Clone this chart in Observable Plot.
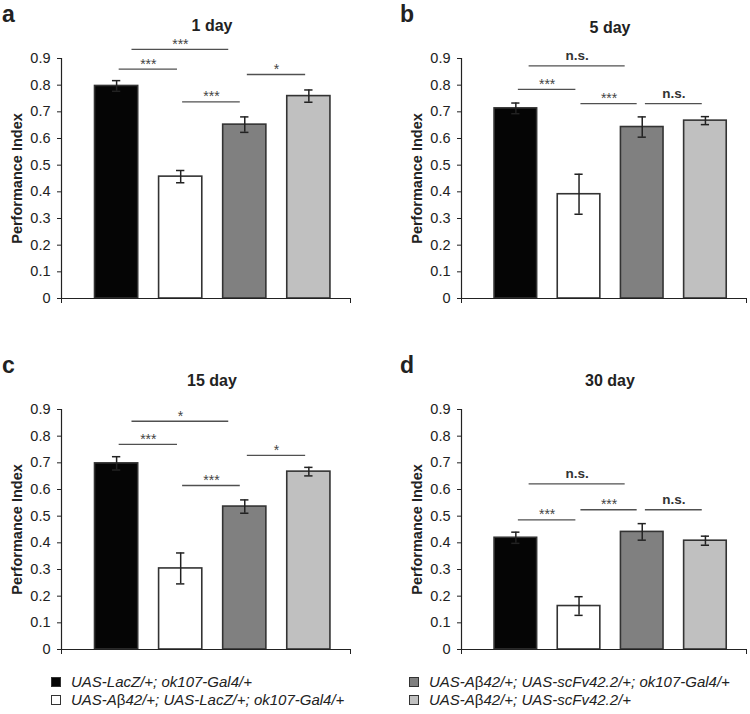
<!DOCTYPE html>
<html>
<head>
<meta charset="utf-8">
<script src="https://cdn.jsdelivr.net/npm/d3@7"></script>
<script src="https://cdn.jsdelivr.net/npm/@observablehq/plot@0.6"></script>
<style>
  html, body { margin: 0; padding: 0; background: #fff; }
  #fig { position: relative; width: 750px; height: 714px; background: #fff; font-family: "Liberation Sans", Arial, sans-serif; color: #222; overflow: hidden; }
  .panel { position: absolute; }
  .letter { position: absolute; font-size: 23px; font-weight: bold; line-height: 22px; color: #222; }
  .leg { position: absolute; font-size: 15px; font-style: italic; line-height: 18px; color: #222; white-space: nowrap; }
  .leg .sw { position: absolute; width: 8px; height: 8px; border: 1px solid #333; }
  .leg .up { font-style: normal; }
</style>
</head>
<body>
<div id="fig"></div>
<script>
// ---------- data ----------
const genotypes = [
  "UAS-LacZ/+; ok107-Gal4/+",
  "UAS-A\u03b242/+; UAS-LacZ/+; ok107-Gal4/+",
  "UAS-A\u03b242/+; UAS-scFv42.2/+; ok107-Gal4/+",
  "UAS-A\u03b242/+; UAS-scFv42.2/+"
];
const barColors = ["#050505", "#ffffff", "#808080", "#c0c0c0"];
const panelLetters = ["a", "b", "c", "d"];
const panelTitles = ["1 day", "5 day", "15 day", "30 day"];
const yTicks = [0, 0.1, 0.2, 0.3, 0.4, 0.5, 0.6, 0.7, 0.8, 0.9];
const yTickLabels = ["0", "0.1", "0.2", "0.3", "0.4", "0.5", "0.6", "0.7", "0.8", "0.9"];
const yLabel = "Performance Index";

// mean performance index and error (SEM) per genotype
const means1 = [0.797, 0.457, 0.652, 0.759];
const errs1 = [0.020, 0.023, 0.029, 0.023];
const means5 = [0.713, 0.391, 0.643, 0.667];
const errs5 = [0.020, 0.075, 0.038, 0.015];
const means15 = [0.698, 0.304, 0.536, 0.667];
const errs15 = [0.025, 0.058, 0.025, 0.016];
const means30 = [0.419, 0.163, 0.441, 0.408];
const errs30 = [0.021, 0.035, 0.031, 0.017];

// significance brackets: label, height, from/to (genotype index units)
const sig1Labels = ["***", "***", "***", "*"];
const sig1Y = [0.934, 0.860, 0.737, 0.840];
const sig1From = [0.24, 0.04, 1.03, 2.04];
const sig1To = [1.75, 0.95, 1.93, 2.95];

const sig5Labels = ["n.s.", "***", "***", "n.s."];
const sig5Y = [0.872, 0.784, 0.731, 0.731];
const sig5From = [0.21, 0.04, 1.03, 2.05];
const sig5To = [1.73, 0.95, 1.92, 2.95];

const sig15Labels = ["*", "***", "***", "*"];
const sig15Y = [0.856, 0.769, 0.615, 0.728];
const sig15From = [0.24, 0.04, 1.03, 2.04];
const sig15To = [1.75, 0.95, 1.93, 2.95];

const sig30Labels = ["n.s.", "***", "***", "n.s."];
const sig30Y = [0.621, 0.486, 0.524, 0.524];
const sig30From = [0.21, 0.04, 1.03, 2.05];
const sig30To = [1.73, 0.95, 1.92, 2.95];

// ---------- layout ----------
const FONT = '"Liberation Sans", Arial, sans-serif';
const xDomain = [-0.86, 3.65];
const layouts = [
  {left: 0,   top: 0,   marginLeft: 61, marginRight: 25, titleDy: -33, titleDx: 6},
  {left: 375, top: 0,   marginLeft: 86, marginRight: 4,  titleDy: -31, titleDx: 6},
  {left: 0,   top: 351, marginLeft: 61, marginRight: 25, titleDy: -29, titleDx: 6},
  {left: 375, top: 351, marginLeft: 86, marginRight: 4,  titleDy: -29, titleDx: 6}
];
const letterPos = [[2, 3], [400, 3], [2, 354], [400, 354]];

const allMeans = [means1, means5, means15, means30];
const allErrs = [errs1, errs5, errs15, errs30];
const allSig = [
  [sig1Labels, sig1Y, sig1From, sig1To],
  [sig5Labels, sig5Y, sig5From, sig5To],
  [sig15Labels, sig15Y, sig15From, sig15To],
  [sig30Labels, sig30Y, sig30From, sig30To]
];

const fig = document.getElementById("fig");

function makePanel(p) {
  const L = layouts[p];
  const bars = allMeans[p].map((m, i) => ({i, m, e: allErrs[p][i], fill: barColors[i]}));
  const [lab, sy, sf, st] = allSig[p];
  const sig = lab.map((t, k) => ({t, y: sy[k], x1: sf[k], x2: st[k], xm: (sf[k] + st[k]) / 2}));
  const hw = 0.337, cap = 0.065;
  const plot = Plot.plot({
    width: 375,
    height: 312,
    marginLeft: L.marginLeft,
    marginRight: L.marginRight,
    marginTop: 58,
    marginBottom: 14,
    x: {domain: xDomain, axis: null},
    y: {domain: [0, 0.9], axis: null},
    color: {type: "identity"},
    style: {fontFamily: FONT, background: "transparent", overflow: "visible", color: "#222"},
    marks: [
      Plot.rectY(bars, {x1: d => d.i - hw, x2: d => d.i + hw, y1: 0, y2: "m", fill: "fill", stroke: "#333", strokeWidth: 1.6}),
      Plot.ruleX(bars, {x: "i", y1: d => d.m - d.e, y2: d => d.m + d.e, stroke: "#222", strokeWidth: 1.5}),
      Plot.ruleY(bars, {y: d => d.m + d.e, x1: d => d.i - cap, x2: d => d.i + cap, stroke: "#222", strokeWidth: 1.5}),
      Plot.ruleY(bars, {y: d => d.m - d.e, x1: d => d.i - cap, x2: d => d.i + cap, stroke: "#222", strokeWidth: 1.5}),
      Plot.ruleY(sig, {y: "y", x1: "x1", x2: "x2", stroke: "#505050", strokeWidth: 1.3}),
      Plot.text(sig.filter(d => d.t !== "n.s."), {x: "xm", y: "y", text: "t", fontSize: 14, fill: "#444", dy: -5}),
      Plot.text(sig.filter(d => d.t === "n.s."), {x: "xm", y: "y", text: "t", fontSize: 13.5, fontWeight: "bold", fill: "#333", dy: -10}),
      Plot.ruleY([0], {stroke: "#222", strokeWidth: 1.2}),
      Plot.ruleX([xDomain[0]], {stroke: "#222", strokeWidth: 1.2}),
      Plot.axisX({ticks: xDomain, tickSize: 5, tickFormat: () => "", stroke: "#222"}),
      Plot.axisY({ticks: yTicks, tickSize: 4, tickPadding: 7, label: null, fontSize: 14.5, fill: "#222", stroke: "#222",
        tickFormat: d => yTickLabels[yTicks.indexOf(d)]}),
      Plot.text([yLabel], {frameAnchor: "left", textAnchor: "middle", lineAnchor: "middle", rotate: -90, dx: -44,
        fontSize: 14.5, fontWeight: "bold", fill: "#222"}),
      Plot.text([panelTitles[p]], {frameAnchor: "top", textAnchor: "middle", lineAnchor: "middle", dx: L.titleDx, dy: L.titleDy,
        fontSize: 16, fontWeight: "bold", fill: "#222"})
    ]
  });
  plot.classList.add("panel");
  plot.style.left = L.left + "px";
  plot.style.top = L.top + "px";
  fig.appendChild(plot);

  const letter = document.createElement("div");
  letter.className = "letter";
  letter.textContent = panelLetters[p];
  letter.style.left = letterPos[p][0] + "px";
  letter.style.top = letterPos[p][1] + "px";
  fig.appendChild(letter);
}

for (let p = 0; p < 4; p++) makePanel(p);

// ---------- legend ----------
const legPos = [[51, 673], [51, 691], [409, 673], [409, 691]];
genotypes.forEach((g, i) => {
  const item = document.createElement("div");
  item.className = "leg";
  item.style.left = legPos[i][0] + "px";
  item.style.top = legPos[i][1] + "px";
  const sw = document.createElement("span");
  sw.className = "sw";
  sw.style.left = "0px";
  sw.style.top = "4px";
  sw.style.background = barColors[i];
  item.appendChild(sw);
  const txt = document.createElement("span");
  txt.style.marginLeft = "20px";
  // keep beta upright as in the figure
  g.split("\u03b2").forEach((part, k, arr) => {
    txt.appendChild(document.createTextNode(part));
    if (k < arr.length - 1) {
      const b = document.createElement("span");
      b.className = "up";
      b.textContent = "\u03b2";
      txt.appendChild(b);
    }
  });
  item.appendChild(txt);
  fig.appendChild(item);
});
</script>
</body>
</html>
